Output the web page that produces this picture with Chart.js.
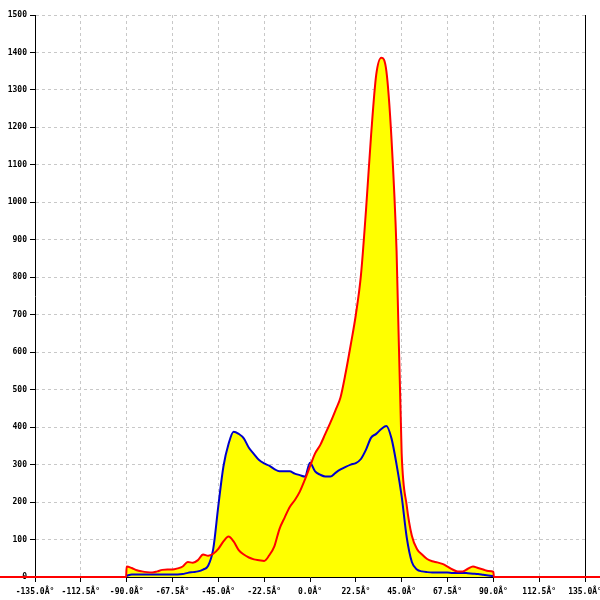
<!DOCTYPE html>
<html>
<head>
<meta charset="utf-8">
<script src="https://cdn.jsdelivr.net/npm/chart.js@4"></script>
<style>
  body { margin: 0; background: #fff; }
  canvas { display: block; }
</style>
</head>
<body>
<canvas id="myChart" width="600" height="600"></canvas>
<script>
// angles in degrees, 2.5 deg apart
var angles = [-90, -87.5, -85, -82.5, -80, -77.5, -75, -72.5, -70, -67.5, -65, -62.5,
    -60, -57.5, -55, -52.5, -50, -47.5, -45, -42.5, -40, -37.5, -35, -32.5,
    -30, -27.5, -25, -22.5, -20, -17.5, -15, -12.5, -10, -7.5, -5, -2.5,
    0, 2.5, 5, 7.5, 10, 12.5, 15, 17.5, 20, 22.5, 25, 27.5,
    30, 32.5, 35, 37.5, 40, 42.5, 45, 47.5, 50, 52.5, 55, 57.5,
    60, 62.5, 65, 67.5, 70, 72.5, 75, 77.5, 80, 82.5, 85, 87.5, 90];

var redValues = [28, 24, 18, 15, 13, 12, 15, 19, 20, 20, 23, 28,
    40, 38, 45, 60, 57, 62, 75, 95, 108, 95, 72, 60,
    52, 47, 45, 43, 58, 82, 128, 158, 186, 205, 228, 260,
    295, 330, 352, 382, 412, 445, 480, 545, 620, 700, 805, 980,
    1180, 1340, 1386, 1350, 1170, 870, 330, 190, 110, 75, 60, 48,
    42, 39, 35, 28, 20, 15, 15, 22, 28, 24, 20, 16, 14];

var blueValues = [3, 7, 7, 7, 7, 7, 7, 7, 7, 7, 7, 8,
    11, 13, 15, 20, 30, 75, 190, 295, 355, 388, 382, 370,
    345, 328, 312, 303, 297, 288, 282, 282, 282, 276, 272, 268,
    305, 282, 273, 268, 268, 278, 287, 294, 300, 304, 315, 340,
    372, 382, 395, 403, 370, 300, 215, 105, 40, 20, 15, 13,
    12, 12, 12, 12, 11, 11, 11, 10, 9, 8, 6, 4, 2];

// red trace runs on the baseline outside the measured range
var redLeftAngles = [-180, -90.3];
var redRightAngles = [90.3, 180];
var baseValues = [0, 0];

var xTickLabels = ['-135.0Â°', '-112.5Â°', '-90.0Â°', '-67.5Â°', '-45.0Â°', '-22.5Â°', '0.0Â°',
    '22.5Â°', '45.0Â°', '67.5Â°', '90.0Â°', '112.5Â°', '135.0Â°'];

function toPoints(xs, ys) {
    return xs.map(function (x, i) { return { x: x, y: ys[i] }; });
}

var redData = toPoints(redLeftAngles, baseValues)
    .concat(toPoints(angles, redValues))
    .concat(toPoints(redRightAngles, baseValues));
var blueData = toPoints(angles, blueValues);

var tickFont = { family: 'DejaVu Sans Mono', size: 8, weight: 'bold' };

const ctx = document.getElementById('myChart').getContext('2d');
const myChart = new Chart(ctx, {
    type: 'line',
    data: {
        datasets: [{
            label: 'red',
            data: redData,
            borderColor: '#ff0000',
            backgroundColor: '#ffff00',
            borderWidth: 2,
            fill: 'origin',
            pointRadius: 0,
            cubicInterpolationMode: 'monotone',
            clip: false
        }, {
            label: 'blue',
            data: blueData,
            borderColor: '#0000cc',
            backgroundColor: '#ffff00',
            borderWidth: 2,
            fill: 'origin',
            pointRadius: 0,
            cubicInterpolationMode: 'monotone'
        }]
    },
    options: {
        responsive: false,
        animation: false,
        layout: { padding: { top: 15, right: 0, left: 0, bottom: 0 } },
        plugins: {
            legend: { display: false },
            tooltip: { enabled: false },
            filler: { drawTime: 'beforeDatasetsDraw' }
        },
        scales: {
            x: {
                type: 'linear',
                min: -135,
                max: 135,
                afterBuildTicks: function (scale) {
                    scale.ticks = xTickLabels.map(function (l, i) { return { value: -135 + i * 22.5 }; });
                },
                afterFit: function (scale) {
                    scale.height = 23;
                    scale.paddingLeft = 0;
                    scale.paddingRight = 0;
                },
                ticks: {
                    autoSkip: false,
                    maxRotation: 0,
                    padding: 5,
                    color: '#000',
                    font: tickFont,
                    callback: function (v, i) { return xTickLabels[i]; }
                },
                grid: { color: '#c8c8c8', tickColor: '#000', tickLength: 5 },
                border: { color: '#000', width: 1, dash: [3, 3] }
            },
            y: {
                min: 0,
                max: 1500,
                afterFit: function (scale) { scale.width = 35; },
                ticks: {
                    stepSize: 100,
                    padding: 3,
                    color: '#000',
                    font: tickFont,
                    callback: function (v) { return String(v); }
                },
                grid: { color: '#c8c8c8', tickColor: '#000', tickLength: 5 },
                border: { color: '#000', width: 1, dash: [3, 3] }
            },
            y2: {
                position: 'right',
                min: 0,
                max: 1500,
                afterFit: function (scale) { scale.width = 15; },
                ticks: { display: false },
                grid: { display: false, drawTicks: false },
                border: { color: '#000', width: 1 }
            }
        }
    }
});
</script>
</body>
</html>
